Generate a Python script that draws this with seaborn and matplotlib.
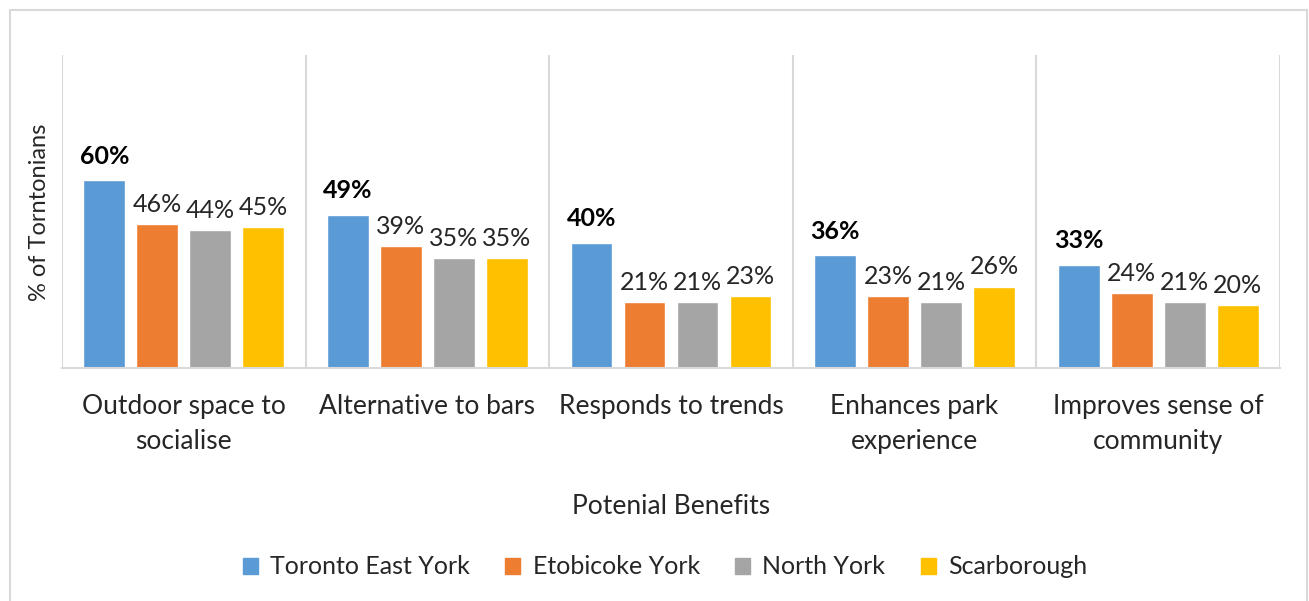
import numpy as np
import pandas as pd
import matplotlib
matplotlib.use("Agg")
import matplotlib.pyplot as plt
from matplotlib.patches import Rectangle
import seaborn as sns

# Survey results: share of respondents naming each benefit, by district
benefits = ["Outdoor space to\nsocialise", "Alternative to bars", "Responds to trends",
            "Enhances park\nexperience", "Improves sense of\ncommunity"]
districts = ["Toronto East York", "Etobicoke York", "North York", "Scarborough"]
toronto_east_york = [60, 49, 40, 36, 33]
etobicoke_york = [46, 39, 21, 23, 24]
north_york = [44, 35, 21, 21, 21]
scarborough = [45, 35, 23, 26, 20]
colors = ["#5B9BD5", "#ED7D31", "#A5A5A5", "#FFC000"]

series = [toronto_east_york, etobicoke_york, north_york, scarborough]
df = pd.DataFrame(
    [(b, d, v) for d, vals in zip(districts, series) for b, v in zip(benefits, vals)],
    columns=["benefit", "district", "pct"],
)

sns.set_theme(style="white")
plt.rcParams["font.family"] = ["Lato", "DejaVu Sans"]
TXT = "#262626"
GRID = "#D9D9D9"

fig = plt.figure(figsize=(13.09, 6.01), dpi=100)
ax = fig.add_axes([62 / 1309, 1 - 368 / 601, (1280 - 62) / 1309, (368 - 55) / 601])

sns.barplot(data=df, x="benefit", y="pct", hue="district", order=benefits,
            hue_order=districts, palette=colors, width=0.87, gap=0.21,
            saturation=1, ax=ax, legend=False)

ax.set_ylim(0, 100)
ax.set_xlim(-0.5, len(benefits) - 0.5)
ax.set_yticks([])
ax.set_xticks(np.arange(-0.5, len(benefits)), minor=True)
ax.grid(which="minor", axis="x", color=GRID, linewidth=1.5)
ax.grid(which="major", visible=False)
ax.tick_params(axis="x", which="both", length=0, pad=19, labelsize=19, labelcolor=TXT)
for lbl in ax.get_xticklabels():
    lbl.set_linespacing(1.5)
for side in ["top", "right", "left"]:
    ax.spines[side].set_visible(False)
ax.spines["bottom"].set_color(GRID)
ax.spines["bottom"].set_linewidth(1.5)

for i, cont in enumerate(ax.containers):
    bold = i == 0
    ax.bar_label(cont, labels=[f"{v:.0f}%" for v in cont.datavalues],
                 padding=9 if bold else 6, fontsize=18,
                 fontweight="bold" if bold else "normal", color="black" if bold else TXT)

ax.set_xlabel("Potenial Benefits", fontsize=19, color=TXT, labelpad=0)
ax.xaxis.set_label_coords(0.5, 1 - (494 - 55) / (368 - 55), transform=ax.transAxes)
ax.set_ylabel("% of Torntonians", fontsize=17, color=TXT)
ax.yaxis.set_label_coords(50 / 1309, 1 - 212 / 601, transform=fig.transFigure)

handles = [Rectangle((0, 0), 1, 1, color=c) for c in colors]
ax.legend(handles, districts, loc="center", ncol=4, frameon=False,
          bbox_to_anchor=(665 / 1309, 1 - 567 / 601), bbox_transform=fig.transFigure,
          fontsize=18, handlelength=0.6, handleheight=0.6, handletextpad=0.5,
          columnspacing=1.4, labelcolor=TXT)

fig.patches.append(Rectangle((10 / 1309, -0.05), 1297 / 1309, 1.05 - 10 / 601,
                             transform=fig.transFigure, fill=False,
                             edgecolor=GRID, linewidth=1.5))

fig.savefig("out.png", dpi=100, facecolor="white")
